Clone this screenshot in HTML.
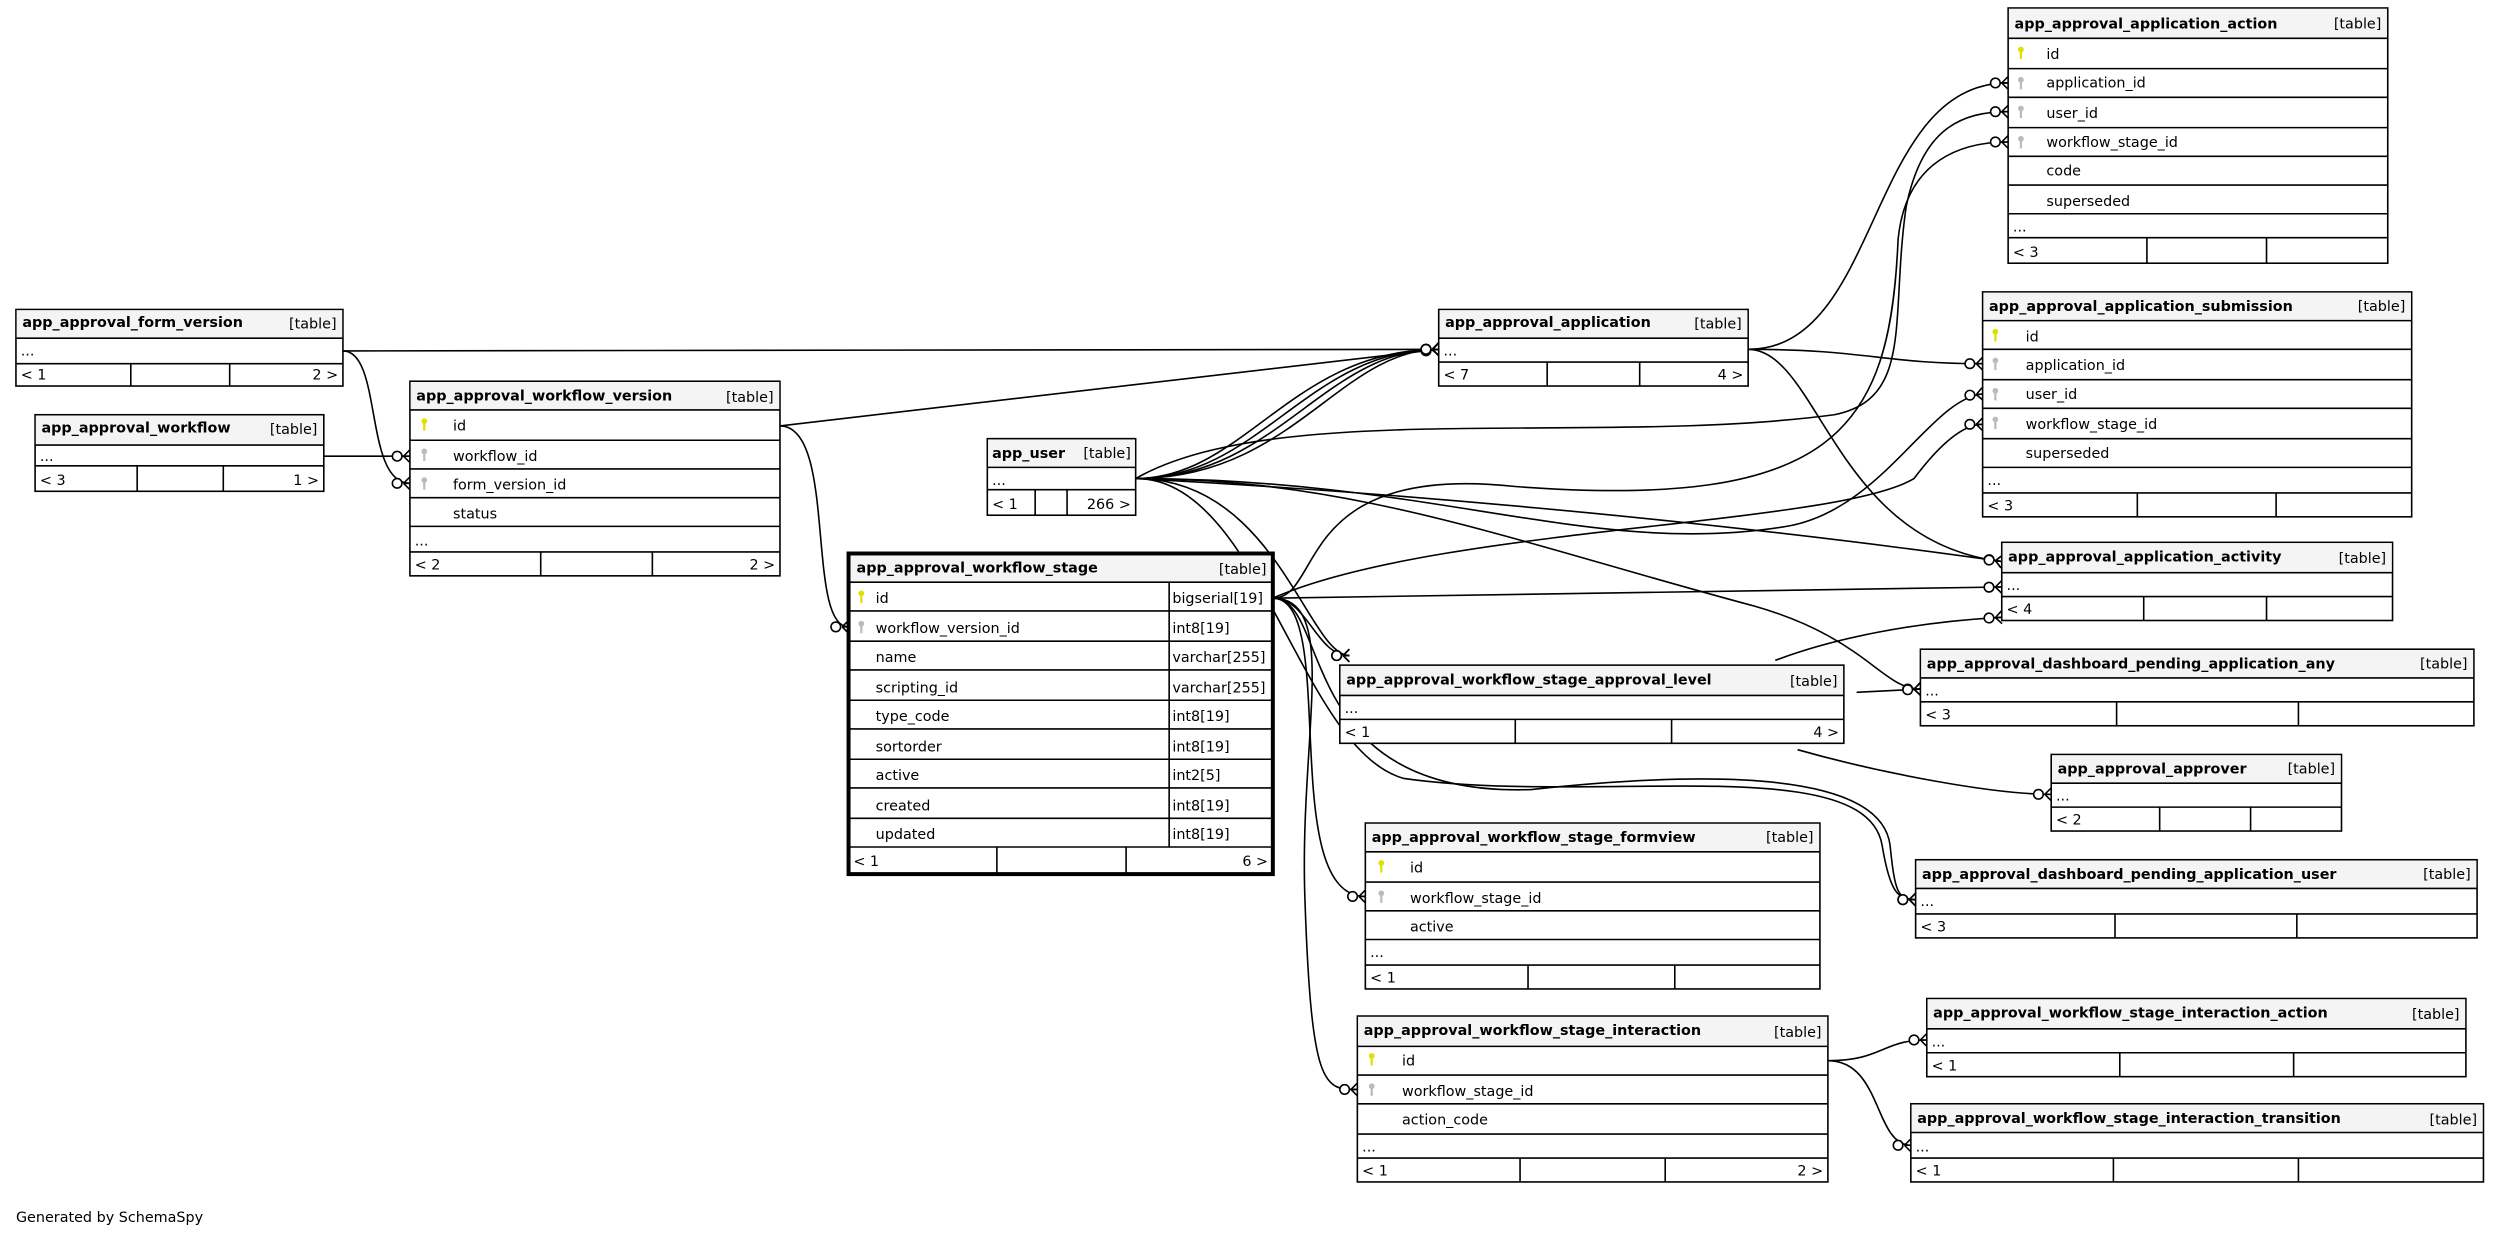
<!DOCTYPE html>
<html><head><meta charset="utf-8"><style>
html,body{margin:0;padding:0;background:#fff;}
svg{display:block;}
text{font-family:"DejaVu Sans","Liberation Sans",sans-serif;font-size:9px;fill:#000;}
.b{font-weight:bold;}
.e{text-anchor:end;}
.hd{fill:#f4f4f4;}
.bx{fill:#fff;stroke:#000;stroke-width:1;}
.ln{stroke:#000;stroke-width:1;}
.ed{fill:none;stroke:#000;stroke-width:1;marker-end:url(#cf);}
</style></head><body>
<svg width="2501" height="1237" viewBox="0 0 1568 775.5" xmlns="http://www.w3.org/2000/svg">
<defs>
<marker id="cf" markerUnits="userSpaceOnUse" viewBox="-14 -6 16 12" refX="0" refY="0" markerWidth="16" markerHeight="12" orient="auto">
<path d="M-4,0 L0,-4 M-4,0 L0,0 M-4,0 L0,4" stroke="#000" stroke-width="1" fill="none"/>
<circle cx="-8" cy="0" r="3" fill="#fff" stroke="#000" stroke-width="1"/>
</marker>
<g id="pk"><circle cx="0" cy="0" r="1.8" fill="#e0e000"/><rect x="-0.7" y="0" width="1.4" height="6" fill="#e0e000"/></g>
<g id="fk"><circle cx="0" cy="0" r="1.8" fill="#bbb"/><rect x="-0.7" y="0" width="1.4" height="6" fill="#bbb"/></g>
</defs>

<!-- edges -->
<path class="ed" d="M215,220 L902,219"/>
<path class="ed" d="M215,220 C240,220 228,303 257,303"/>
<path class="ed" d="M203,286 L257,286"/>
<path class="ed" d="M489,267 L902,219"/>
<path class="ed" d="M489,267 C525,267 505,393 532,393"/>
<path class="ed" d="M712,300 C790,300 820,219 902,219"/>
<path class="ed" d="M712,300 C780,300 810,219 902,219"/>
<path class="ed" d="M712,300 C800,300 830,219 902,219"/>
<path class="ed" d="M712,300 C810,300 840,219 902,219"/>
<path class="ed" d="M712,300 C800,250 1000,280 1150,260 C1200,250 1185,200 1195,130 C1205,80 1230,70 1259,70"/>
<path class="ed" d="M712,300 C900,300 1000,350 1120,330 C1180,320 1210,250 1243,247"/>
<path class="ed" d="M712,300 C900,310 1100,330 1255,352"/>
<path class="ed" d="M712,300 C850,300 950,340 1100,380 C1170,400 1180,432 1204,432"/>
<path class="ed" d="M712,300 C790,300 815,470 880,488 C1000,505 1170,470 1180,530 C1185,560 1190,564 1201,564"/>
<path class="ed" d="M712,300 C800,300 820,411 846,411"/>
<path class="ed" d="M1096,219 C1180,219 1170,52 1259,52"/>
<path class="ed" d="M1096,219 C1170,219 1180,228 1243,228"/>
<path class="ed" d="M1096,219 C1140,219 1150,340 1255,352"/>
<path class="ed" d="M798,375 C830,375 810,290 950,305 C1150,320 1185,270 1190,150 C1195,100 1230,89 1259,89"/>
<path class="ed" d="M798,375 C900,330 1150,330 1200,300 C1215,280 1230,266 1243,266"/>
<path class="ed" d="M798,375 L1255,368"/>
<path class="ed" d="M798,375 C820,375 825,411 846,411"/>
<path class="ed" d="M798,375 C840,375 800,562 856,562"/>
<path class="ed" d="M798,375 C840,375 815,460 818,560 C822,683 830,683 851,683"/>
<path class="ed" d="M798,375 C835,375 810,500 960,495 C1100,480 1180,490 1185,530 C1188,560 1190,564 1201,564"/>
<path class="ed" d="M1113,414 C1150,400 1200,390 1255,387"/>
<path class="ed" d="M1164,434 L1204,432"/>
<path class="ed" d="M1127,470 C1180,485 1250,498 1286,498"/>
<path class="ed" d="M1146,665 C1180,665 1180,652 1208,652"/>
<path class="ed" d="M1146,665 C1180,665 1175,718 1198,718"/>

<!-- action -->
<g>
<rect class="bx" x="1259" y="5" width="238" height="160"/><rect class="hd" x="1259.5" y="5.5" width="237" height="18.5"/>
<path class="ln" d="M1259,24H1497M1259,43H1497M1259,61H1497M1259,80H1497M1259,98H1497M1259,116H1497M1259,134H1497M1259,149H1497M1346,149V165M1421,149V165"/>
<text class="b" x="1263" y="18">app_approval_application_action</text><text class="e" x="1493" y="18">[table]</text>
<use href="#pk" x="1267" y="31"/><text x="1283" y="37">id</text>
<use href="#fk" x="1267" y="50"/><text x="1283" y="55">application_id</text>
<use href="#fk" x="1267" y="68"/><text x="1283" y="74">user_id</text>
<use href="#fk" x="1267" y="87"/><text x="1283" y="92">workflow_stage_id</text>
<text x="1283" y="110">code</text><text x="1283" y="129">superseded</text>
<text x="1262" y="145">...</text><text x="1262" y="161">&lt; 3</text>
</g>
<!-- form_version -->
<g>
<rect class="bx" x="10" y="194" width="205" height="48"/><rect class="hd" x="10.5" y="194.5" width="204" height="18"/>
<path class="ln" d="M10,212H215M10,228H215M82,228V242M144,228V242"/>
<text class="b" x="14" y="205">app_approval_form_version</text><text class="e" x="211" y="206">[table]</text>
<text x="13" y="223">...</text><text x="13" y="238">&lt; 1</text><text class="e" x="212" y="238">2 &gt;</text>
</g>
<!-- workflow -->
<g>
<rect class="bx" x="22" y="260" width="181" height="48"/><rect class="hd" x="22.5" y="260.5" width="180" height="18.5"/>
<path class="ln" d="M22,279H203M22,292H203M86,292V308M140,292V308"/>
<text class="b" x="26" y="271">app_approval_workflow</text><text class="e" x="199" y="272">[table]</text>
<text x="25" y="289">...</text><text x="25" y="304">&lt; 3</text><text class="e" x="200" y="304">1 &gt;</text>
</g>
<!-- workflow_version -->
<g>
<rect class="bx" x="257" y="239" width="232" height="122"/><rect class="hd" x="257.5" y="239.5" width="231" height="17.5"/>
<path class="ln" d="M257,257H489M257,276H489M257,294H489M257,312H489M257,330H489M257,346H489M339,346V361M409,346V361"/>
<text class="b" x="261" y="251">app_approval_workflow_version</text><text class="e" x="485" y="252">[table]</text>
<use href="#pk" x="266" y="264"/><text x="284" y="270">id</text>
<use href="#fk" x="266" y="283"/><text x="284" y="289">workflow_id</text>
<use href="#fk" x="266" y="301"/><text x="284" y="307">form_version_id</text>
<text x="284" y="325">status</text><text x="260" y="342">...</text>
<text x="260" y="357">&lt; 2</text><text class="e" x="486" y="357">2 &gt;</text>
</g>
<!-- app_user -->
<g>
<rect class="bx" x="619" y="275" width="93" height="48"/><rect class="hd" x="619.5" y="275.5" width="92" height="17.5"/>
<path class="ln" d="M619,293H712M619,307H712M649,307V323M669,307V323"/>
<text class="b" x="622" y="287">app_user</text><text class="e" x="709" y="287">[table]</text>
<text x="622" y="304">...</text><text x="622" y="319">&lt; 1</text><text class="e" x="709" y="319">266 &gt;</text>
</g>
<!-- application -->
<g>
<rect class="bx" x="902" y="194" width="194" height="48"/><rect class="hd" x="902.5" y="194.5" width="193" height="17.5"/>
<path class="ln" d="M902,212H1096M902,227H1096M970,227V242M1028,227V242"/>
<text class="b" x="906" y="205">app_approval_application</text><text class="e" x="1092" y="206">[table]</text>
<text x="905" y="223">...</text><text x="905" y="238">&lt; 7</text><text class="e" x="1093" y="238">4 &gt;</text>
</g>
<!-- stage -->
<g>
<rect x="532" y="347" width="266" height="201" fill="#fff" stroke="#000" stroke-width="2.5"/><rect class="hd" x="533.5" y="348.5" width="263" height="16.5"/>
<path class="ln" d="M532,365H798M532,383H798M532,402H798M532,420H798M532,439H798M532,457H798M532,476H798M532,494H798M532,513H798M532,531H798M733,365V531M625,531V548M706,531V548"/>
<text class="b" x="537" y="359">app_approval_workflow_stage</text><text class="e" x="794" y="360">[table]</text>
<use href="#pk" x="540" y="372"/><text x="549" y="378">id</text><text x="735" y="378">bigserial[19]</text>
<use href="#fk" x="540" y="391"/><text x="549" y="397">workflow_version_id</text><text x="735" y="397">int8[19]</text>
<text x="549" y="415">name</text><text x="735" y="415">varchar[255]</text>
<text x="549" y="434">scripting_id</text><text x="735" y="434">varchar[255]</text>
<text x="549" y="452">type_code</text><text x="735" y="452">int8[19]</text>
<text x="549" y="471">sortorder</text><text x="735" y="471">int8[19]</text>
<text x="549" y="489">active</text><text x="735" y="489">int2[5]</text>
<text x="549" y="508">created</text><text x="735" y="508">int8[19]</text>
<text x="549" y="526">updated</text><text x="735" y="526">int8[19]</text>
<text x="535" y="543">&lt; 1</text><text class="e" x="795" y="543">6 &gt;</text>
</g>
<!-- submission -->
<g>
<rect class="bx" x="1243" y="183" width="269" height="141"/><rect class="hd" x="1243.5" y="183.5" width="268" height="17.5"/>
<path class="ln" d="M1243,201H1512M1243,219H1512M1243,238H1512M1243,256H1512M1243,275H1512M1243,293H1512M1243,309H1512M1340,309V324M1427,309V324"/>
<text class="b" x="1247" y="195">app_approval_application_submission</text><text class="e" x="1508" y="195">[table]</text>
<use href="#pk" x="1251" y="208"/><text x="1270" y="214">id</text>
<use href="#fk" x="1251" y="226"/><text x="1270" y="232">application_id</text>
<use href="#fk" x="1251" y="245"/><text x="1270" y="250">user_id</text>
<use href="#fk" x="1251" y="263"/><text x="1270" y="269">workflow_stage_id</text>
<text x="1270" y="287">superseded</text><text x="1246" y="304">...</text><text x="1246" y="320">&lt; 3</text>
</g>
<!-- activity -->
<g>
<rect class="bx" x="1255" y="340" width="245" height="49"/><rect class="hd" x="1255.5" y="340.5" width="244" height="18.5"/>
<path class="ln" d="M1255,359H1500M1255,374H1500M1344,374V389M1421,374V389"/>
<text class="b" x="1259" y="352">app_approval_application_activity</text><text class="e" x="1496" y="353">[table]</text>
<text x="1258" y="370">...</text><text x="1258" y="385">&lt; 4</text>
</g>
<!-- approval_level -->
<g>
<rect class="bx" x="840" y="417" width="316" height="49"/><rect class="hd" x="840.5" y="417.5" width="315" height="18.5"/>
<path class="ln" d="M840,436H1156M840,451H1156M950,451V466M1048,451V466"/>
<text class="b" x="844" y="429">app_approval_workflow_stage_approval_level</text><text class="e" x="1152" y="430">[table]</text>
<text x="843" y="447">...</text><text x="843" y="462">&lt; 1</text><text class="e" x="1153" y="462">4 &gt;</text>
</g>
<!-- dashboard any -->
<g>
<rect class="bx" x="1204" y="407" width="347" height="48"/><rect class="hd" x="1204.5" y="407.5" width="346" height="17.5"/>
<path class="ln" d="M1204,425H1551M1204,440H1551M1327,440V455M1441,440V455"/>
<text class="b" x="1208" y="419">app_approval_dashboard_pending_application_any</text><text class="e" x="1547" y="419">[table]</text>
<text x="1207" y="436">...</text><text x="1207" y="451">&lt; 3</text>
</g>
<!-- approver -->
<g>
<rect class="bx" x="1286" y="473" width="182" height="48"/><rect class="hd" x="1286.5" y="473.5" width="181" height="17.5"/>
<path class="ln" d="M1286,491H1468M1286,506H1468M1354,506V521M1411,506V521"/>
<text class="b" x="1290" y="485">app_approval_approver</text><text class="e" x="1464" y="485">[table]</text>
<text x="1289" y="502">...</text><text x="1289" y="517">&lt; 2</text>
</g>
<!-- formview -->
<g>
<rect class="bx" x="856" y="516" width="285" height="104"/><rect class="hd" x="856.5" y="516.5" width="284" height="17.5"/>
<path class="ln" d="M856,534H1141M856,553H1141M856,571H1141M856,589H1141M856,605H1141M958,605V620M1050,605V620"/>
<text class="b" x="860" y="528">app_approval_workflow_stage_formview</text><text class="e" x="1137" y="528">[table]</text>
<use href="#pk" x="866" y="541"/><text x="884" y="547">id</text>
<use href="#fk" x="866" y="560"/><text x="884" y="566">workflow_stage_id</text>
<text x="884" y="584">active</text><text x="859" y="600">...</text><text x="859" y="616">&lt; 1</text>
</g>
<!-- dashboard user -->
<g>
<rect class="bx" x="1201" y="539" width="352" height="49"/><rect class="hd" x="1201.5" y="539.5" width="351" height="17.5"/>
<path class="ln" d="M1201,557H1553M1201,573H1553M1326,573V588M1440,573V588"/>
<text class="b" x="1205" y="551">app_approval_dashboard_pending_application_user</text><text class="e" x="1549" y="551">[table]</text>
<text x="1204" y="568">...</text><text x="1204" y="584">&lt; 3</text>
</g>
<!-- interaction -->
<g>
<rect class="bx" x="851" y="637" width="295" height="104"/><rect class="hd" x="851.5" y="637.5" width="294" height="18.5"/>
<path class="ln" d="M851,656H1146M851,674H1146M851,692H1146M851,711H1146M851,726H1146M953,726V741M1044,726V741"/>
<text class="b" x="855" y="649">app_approval_workflow_stage_interaction</text><text class="e" x="1142" y="650">[table]</text>
<use href="#pk" x="860" y="662"/><text x="879" y="668">id</text>
<use href="#fk" x="860" y="681"/><text x="879" y="687">workflow_stage_id</text>
<text x="879" y="705">action_code</text><text x="854" y="722">...</text>
<text x="854" y="737">&lt; 1</text><text class="e" x="1143" y="737">2 &gt;</text>
</g>
<!-- interaction action -->
<g>
<rect class="bx" x="1208" y="626" width="338" height="49"/><rect class="hd" x="1208.5" y="626.5" width="337" height="18.5"/>
<path class="ln" d="M1208,645H1546M1208,660H1546M1329,660V675M1438,660V675"/>
<text class="b" x="1212" y="638">app_approval_workflow_stage_interaction_action</text><text class="e" x="1542" y="639">[table]</text>
<text x="1211" y="656">...</text><text x="1211" y="671">&lt; 1</text>
</g>
<!-- interaction transition -->
<g>
<rect class="bx" x="1198" y="692" width="359" height="49"/><rect class="hd" x="1198.5" y="692.5" width="358" height="17.5"/>
<path class="ln" d="M1198,710H1557M1198,726H1557M1325,726V741M1441,726V741"/>
<text class="b" x="1202" y="704">app_approval_workflow_stage_interaction_transition</text><text class="e" x="1553" y="705">[table]</text>
<text x="1201" y="722">...</text><text x="1201" y="737">&lt; 1</text>
</g>

<text x="10" y="766">Generated by SchemaSpy</text>
</svg>
</body></html>
